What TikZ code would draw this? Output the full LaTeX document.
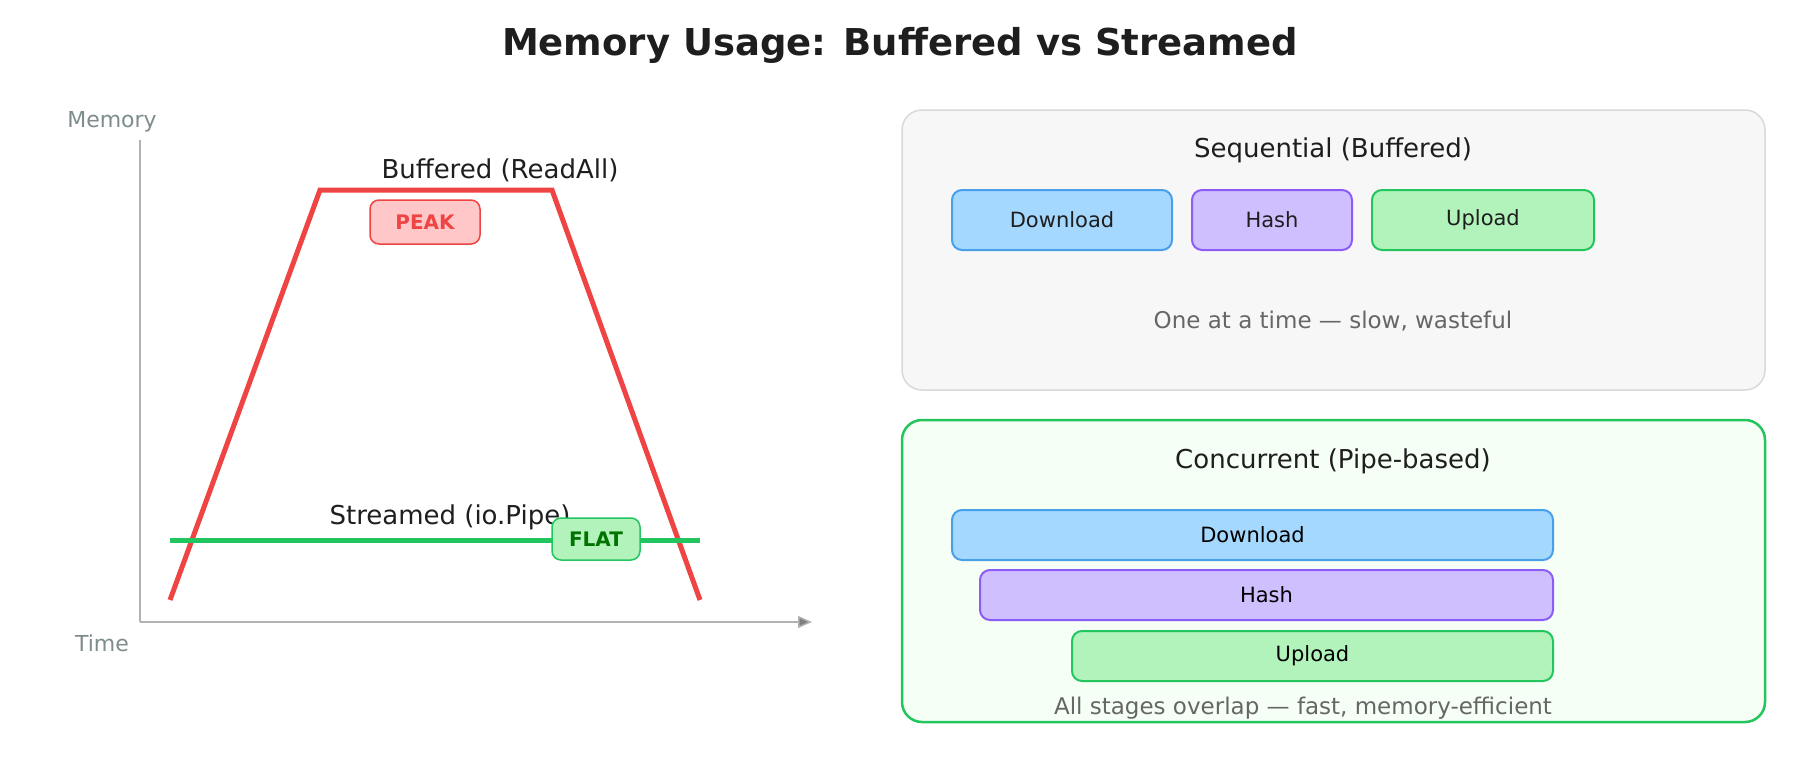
\documentclass[tikz,border=0pt]{standalone}
\usepackage{fontspec}
\setmainfont{DejaVu Sans}
\usetikzlibrary{arrows.meta}
\definecolor{red1}{HTML}{EF4444}
\definecolor{grn}{HTML}{22C55E}
\definecolor{bluef}{HTML}{A5D8FF}\definecolor{blued}{HTML}{4A9FEA}
\definecolor{purf}{HTML}{D0BFFF}\definecolor{purd}{HTML}{8B5CF6}
\definecolor{grnf}{HTML}{B2F2BB}
\definecolor{axisg}{HTML}{7F8C8D}
\definecolor{txt}{HTML}{1E1E1E}
\tikzset{
 lbl/.style={font=\fontsize{26}{30}\selectfont, text=txt},
 stage/.style={draw, rounded corners=10pt, line width=2pt, font=\fontsize{21}{25}\selectfont, text=txt},
 bl/.style={stage, fill=bluef, draw=blued},
 pu/.style={stage, fill=purf, draw=purd},
 gr/.style={stage, fill=grnf, draw=grn},
}
\begin{document}
\begin{tikzpicture}[x=1pt,y=-1pt]
\useasboundingbox (0,0) rectangle (1800,760);
\node[font=\bfseries\fontsize{37}{42}\selectfont, text=txt] (title) at (900,45) {Memory Usage: Buffered vs Streamed};
% axes
\node[font=\fontsize{22}{26}\selectfont, text=axisg] (mem) at (112,122) {Memory};
\node[font=\fontsize{22}{26}\selectfont, text=axisg] (time) at (102,643) {Time};
\coordinate (o) at (140,622); \coordinate (ytop) at (140,140); \coordinate (xend) at (812,622);
\draw[gray!60, line width=1.5pt] (ytop) -- (o);
\draw[gray!60, line width=1.5pt, -{Triangle[length=14pt,width=12pt,fill=gray]}] (o) -- (xend);
% buffered
\coordinate (b1) at (170,600); \coordinate (b2) at (320,190); \coordinate (b3) at (552,190); \coordinate (b4) at (700,600);
\draw[red1, line width=5pt] (b1) -- (b2) -- (b3) -- (b4);
\node[lbl] (bufl) at (500,170) {Buffered (ReadAll)};
\node[draw=red1, fill=red!22, line width=1.5pt, rounded corners=9pt, minimum width=110pt, minimum height=44pt, text=red1, font=\bfseries\fontsize{20}{24}\selectfont] (peak) at (425,222) {PEAK};
% streamed
\coordinate (s1) at (170,540); \coordinate (s2) at (700,540);
\node[lbl] (strl) at (450,517) {Streamed (io.Pipe)};
\draw[grn, line width=5pt] (s1) -- (s2);
\node[draw=grn, fill=grnf, line width=1.5pt, rounded corners=9pt, minimum width=88pt, minimum height=42pt, text=green!45!black, font=\bfseries\fontsize{20}{24}\selectfont] (flat) at (596,539) {FLAT};
% sequential panel
\draw[draw=gray!30, fill=gray!6, line width=1.5pt, rounded corners=20pt] (902,110) rectangle (1765,390);
\node[lbl] (seqt) at (1333,150) {Sequential (Buffered)};
\node[bl, minimum width=220pt, minimum height=60pt] (d1) at (1062,220) {Download};
\node[pu, minimum width=160pt, minimum height=60pt] (h1) at (1272,220) {Hash};
\node[gr, minimum width=222pt, minimum height=60pt] (u1) at (1483,220) {Upload};
\node[font=\fontsize{23}{27}\selectfont, text=gray!80!black] (seqn) at (1333,321) {One at a time — slow, wasteful};
% concurrent panel
\draw[draw=grn, fill=green!4, line width=2.5pt, rounded corners=20pt] (902,420) rectangle (1765,722);
\node[lbl] (cont) at (1333,461) {Concurrent (Pipe-based)};
\node[bl, minimum width=601pt, minimum height=50pt, text=black] (d2) at (1252.5,535) {Download};
\node[pu, minimum width=573pt, minimum height=50pt, text=black] (h2) at (1266.5,595) {Hash};
\node[gr, minimum width=481pt, minimum height=50pt, text=black] (u2) at (1312.5,656) {Upload};
\node[font=\fontsize{23}{27}\selectfont, text=gray!80!black] (conn) at (1303,708) {All stages overlap — fast, memory-efficient};
\end{tikzpicture}
\end{document}
